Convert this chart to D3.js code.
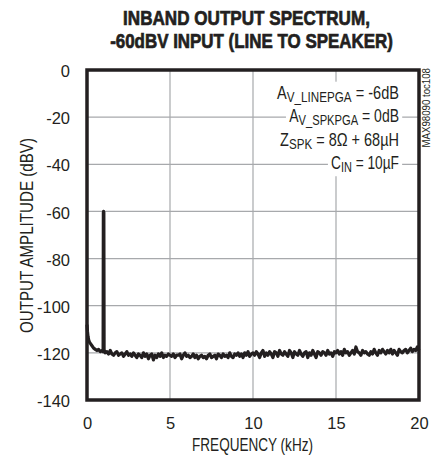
<!DOCTYPE html>
<html><head><meta charset="utf-8">
<script src="https://cdn.jsdelivr.net/npm/d3@7"></script>
<style>
body{margin:0;background:#fff}
text{font-family:"Liberation Sans",Arial,sans-serif;fill:#231f20}
</style></head><body>
<svg id="c" width="433" height="465"></svg>
<script>
const titleLines = ["INBAND OUTPUT SPECTRUM,", "-60dBV INPUT (LINE TO SPEAKER)"];
const xTicks = [0, 5, 10, 15, 20];
const yTicks = [0, -20, -40, -60, -80, -100, -120, -140];
const xLabel = "FREQUENCY (kHz)";
const yLabel = "OUTPUT AMPLITUDE (dBV)";
const sideNote = "MAX98090 toc108";
// low-frequency start and the 1kHz tone
const headFreq = [0, 0.03, 0.06, 0.1, 0.15, 0.2, 0.3, 0.4, 0.5, 0.6, 0.7, 0.8, 0.9, 0.97, 0.985, 1.0, 1.015, 1.03, 1.05];
const headAmp  = [-108, -111, -113, -114.5, -115.5, -116, -117, -118, -118.5, -119, -118.5, -119.5, -119, -119.5, -60.5, -60, -60.5, -119.5, -119];
// noise floor, 1.1 to 20 kHz, step 0.1 kHz
const noiseStart = 1.1, noiseStep = 0.1;
const noiseAmp = [
 -120,-119.5,-120.5,-119,-120.5,-121,-120,-119.5,-121,-120.5,
 -120,-121.5,-120.5,-119.5,-121,-120.5,-121.5,-120,-121,-122,
 -120.5,-121,-122,-120,-121.5,-120.5,-122.5,-121,-120.5,-123,
 -121,-122,-120.5,-121.5,-120,-122,-121,-121.5,-120.5,-121,
 -121.5,-120.5,-122,-121,-121,-120.5,-122.5,-121,-120,-121.5,
 -121,-122,-121.5,-120.5,-122,-121,-122.5,-121.5,-121,-122,
 -121.5,-122.5,-121,-120.5,-122,-121.5,-121,-122.5,-120.5,-121,
 -122,-120.5,-121.5,-121,-122,-120,-121.5,-122,-120.5,-121,
 -120,-121.5,-120.5,-122,-120,-121,-119.5,-121.5,-120.5,-120,
 -121,-119.5,-120.5,-122,-120,-119,-121.5,-120,-121,-119.5,
 -120.5,-122,-119.5,-120,-121.5,-119,-120.5,-121,-119.5,-120.5,
 -121.5,-119,-120,-122,-119.5,-120.5,-121,-119,-120.5,-121.5,
 -120,-119.5,-122,-120,-121,-119,-120.5,-122,-119.5,-120,
 -121,-119.5,-120,-121,-119,-120.5,-120,-121.5,-119.5,-120,
 -119,-120.5,-119.5,-121,-118.5,-120,-119.5,-121,-120,-119,
 -120.5,-117.5,-119.5,-120,-121,-119,-120,-119.5,-120.5,-121,
 -119.5,-120.5,-118.5,-120,-121,-119,-120,-118.5,-119.5,-120.5,
 -119,-120,-118.5,-120.5,-119,-120,-121,-118.5,-119.5,-120,
 -119,-118.5,-120,-119,-118,-119.5,-118.5,-119,-117.5,-119
];
const notes = [
  {main:"A", sub:"V_LINEPGA", rest:" = -6dB"},
  {main:"A", sub:"V_SPKPGA", rest:" = 0dB"},
  {main:"Z", sub:"SPK", rest:" = 8\u03A9 + 68\u00B5H"},
  {main:"C", sub:"IN", rest:" = 10\u00B5F"}
];
const noteWidths = [122, 110, 119, 68];

const svg = d3.select("#c");
const m = {l:87, r:419, t:70, b:400};
const x = d3.scaleLinear().domain([0, 20]).range([m.l, m.r]);
const y = d3.scaleLinear().domain([-140, 0]).range([m.b, m.t]);
const ink = "#231f20";

// place a text inside a group that is condensed horizontally to a target width
function fitted(parent, tx, ty, anchor, size, target, rot) {
  const g = parent.append("g");
  const t = g.append("text").attr("text-anchor", anchor).attr("font-size", size);
  return {g, t, fit(){
    const w = t.node().getBBox().width;
    const s = target / w;
    g.attr("transform", `translate(${tx},${ty})` + (rot ? ` rotate(${rot})` : "") + ` scale(${s},1)`);
  }};
}

// title
const titleW = [247, 283], titleX = [246.5, 251.5];
titleLines.forEach((line,i)=>{
  const f = fitted(svg, titleX[i], 25 + i*23, "middle", 20, titleW[i]);
  f.t.attr("font-weight","bold").attr("stroke",ink).attr("stroke-width",0.7).text(line);
  f.fit();
});

// grid
svg.append("g").selectAll("line").data(xTicks.slice(1,-1)).join("line")
  .attr("x1", d=>x(d)).attr("x2", d=>x(d)).attr("y1", m.t).attr("y2", m.b)
  .attr("stroke","#a7a9ac").attr("stroke-width",1.2);
svg.append("g").selectAll("line").data(yTicks.slice(1,-1)).join("line")
  .attr("y1", d=>y(d)).attr("y2", d=>y(d)).attr("x1", m.l).attr("x2", m.r)
  .attr("stroke","#a7a9ac").attr("stroke-width",1.2);

// axes tick labels
const xAxis = svg.append("g").attr("transform",`translate(0,${m.b})`)
  .call(d3.axisBottom(x).tickValues(xTicks).tickFormat(d=>String(d)).tickSize(0).tickPadding(17));
const yAxis = svg.append("g").attr("transform",`translate(${m.l},0)`)
  .call(d3.axisLeft(y).tickValues(yTicks).tickFormat(d=>String(d)).tickSize(0).tickPadding(17));
[xAxis, yAxis].forEach(a=>{
  a.select(".domain").remove();
  a.selectAll("text").attr("font-size",16.5).attr("fill",ink)
    .style("font-family",'"Liberation Sans",Arial,sans-serif');
});
yAxis.selectAll("text").attr("dy","0.4em");

// axis titles
const xl = fitted(svg, 252.5, 451, "middle", 17.5, 121); xl.t.text(xLabel); xl.fit();
const yl = fitted(svg, 33, 235.5, "middle", 17.5, 195, -90); yl.t.text(yLabel); yl.fit();

// annotations
const ng = svg.append("g");
notes.forEach((n,i)=>{
  const by = 99 + i*23.3;
  const f = fitted(ng, 399, by, "end", 17.5, noteWidths[i]);
  f.t.append("tspan").text(n.main);
  f.t.append("tspan").attr("font-size",14).attr("dy",3).text(n.sub);
  f.t.append("tspan").attr("dy",-3).text(n.rest);
  f.fit();
  const bb = f.t.node().getBBox();
  f.g.insert("rect","text").attr("x",bb.x-4).attr("y",bb.y-1).attr("width",bb.width+8).attr("height",bb.height+2).attr("fill","#fff");
});
const sn = fitted(svg, 430, 68, "end", 10, 80, -90); sn.t.text(sideNote); sn.fit();

// data
const pts = headFreq.map((f,i)=>[f, headAmp[i]])
  .concat(noiseAmp.map((v,i)=>[noiseStart + i*noiseStep, v]));
svg.append("path").datum(pts)
  .attr("d", d3.line().x(d=>x(d[0])).y(d=>y(d[1])))
  .attr("fill","none").attr("stroke",ink).attr("stroke-width",3.2).attr("stroke-linejoin","round");

// frame
svg.append("rect").attr("x",m.l).attr("y",m.t).attr("width",m.r-m.l).attr("height",m.b-m.t)
  .attr("fill","none").attr("stroke",ink).attr("stroke-width",3.5);
</script></body></html>
